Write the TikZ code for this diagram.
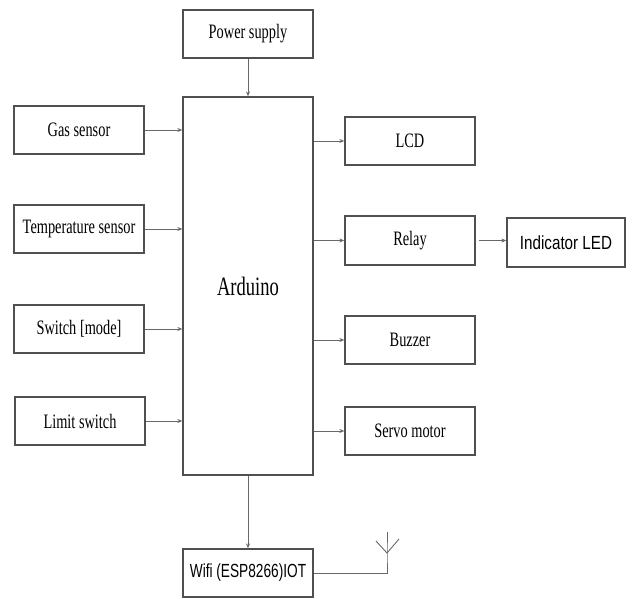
\documentclass[tikz,border=0pt]{standalone}
\usepackage{fontspec}
\setmainfont[FakeStretch=0.7]{Liberation Serif}
\newfontfamily\sansA[FakeStretch=0.8]{Liberation Sans}
\newfontfamily\sansB[FakeStretch=0.72]{Liberation Sans}
\usetikzlibrary{arrows.meta}
\definecolor{boxline}{HTML}{505050}
\definecolor{wire}{HTML}{686868}
\begin{document}
\begin{tikzpicture}[x=1pt,y=-1pt,
  blk/.style={draw=boxline,line width=1.3pt,minimum width=130pt,minimum height=48pt,inner sep=0pt,font=\fontsize{20.5}{22}\selectfont,text=black},
  conn/.style={draw=wire,line width=0.8pt,-{Stealth[length=5pt,width=4pt]}},
  plain/.style={draw=wire,line width=0.9pt}]
\useasboundingbox (0,0) rectangle (627,601);
\node[blk] (pwr) at (248,34) {Power supply};
\node[blk,minimum height=378pt,font=\fontsize{26.5}{28}\selectfont] (ard) at (248,286) {Arduino};
\node[blk] (gas) at (79,130) {Gas sensor};
\node[blk] (temp) at (79,229) {Temperature sensor};
\node[blk] (sw) at (79,329) {Switch [mode]};
\node[blk] (lim) at (80,421) {Limit switch};
\node[blk] (lcd) at (410,141) {LCD};
\node[blk,minimum height=49pt] (rel) at (410,240.5) {Relay};
\node[blk,minimum width=118pt,minimum height=49pt,font=\sansA\fontsize{19}{21}\selectfont] (led) at (566,242.5) {Indicator LED};
\node[blk] (buz) at (410,340) {Buzzer};
\node[blk] (servo) at (410,431) {Servo motor};
\node[blk,font=\sansB\fontsize{19}{21}\selectfont] (wifi) at (248,573) {Wifi (ESP8266)IOT};

\draw[conn] (pwr.south) -- (ard.north);
\foreach \s in {gas,temp,sw,lim}
  \draw[conn] (\s.east) -- (\s.east -| ard.west);
\foreach \t in {lcd,rel,buz,servo}
  \draw[conn] (\t.west -| ard.east) -- (\t.west);
\draw[conn] ([xshift=3pt]rel.east) -- (rel.east -| led.west);
\draw[conn] (ard.south) -- (wifi.north);

\coordinate (ajn) at (387,553);
\coordinate (atop) at (387,532);
\coordinate (al) at (376,541);
\coordinate (ar) at (399,539);
\draw[plain] (wifi.east) -- (wifi.east -| ajn) -- (ajn) -- (atop);
\draw[plain] (al) -- (ajn) -- (ar);
\end{tikzpicture}
\end{document}
